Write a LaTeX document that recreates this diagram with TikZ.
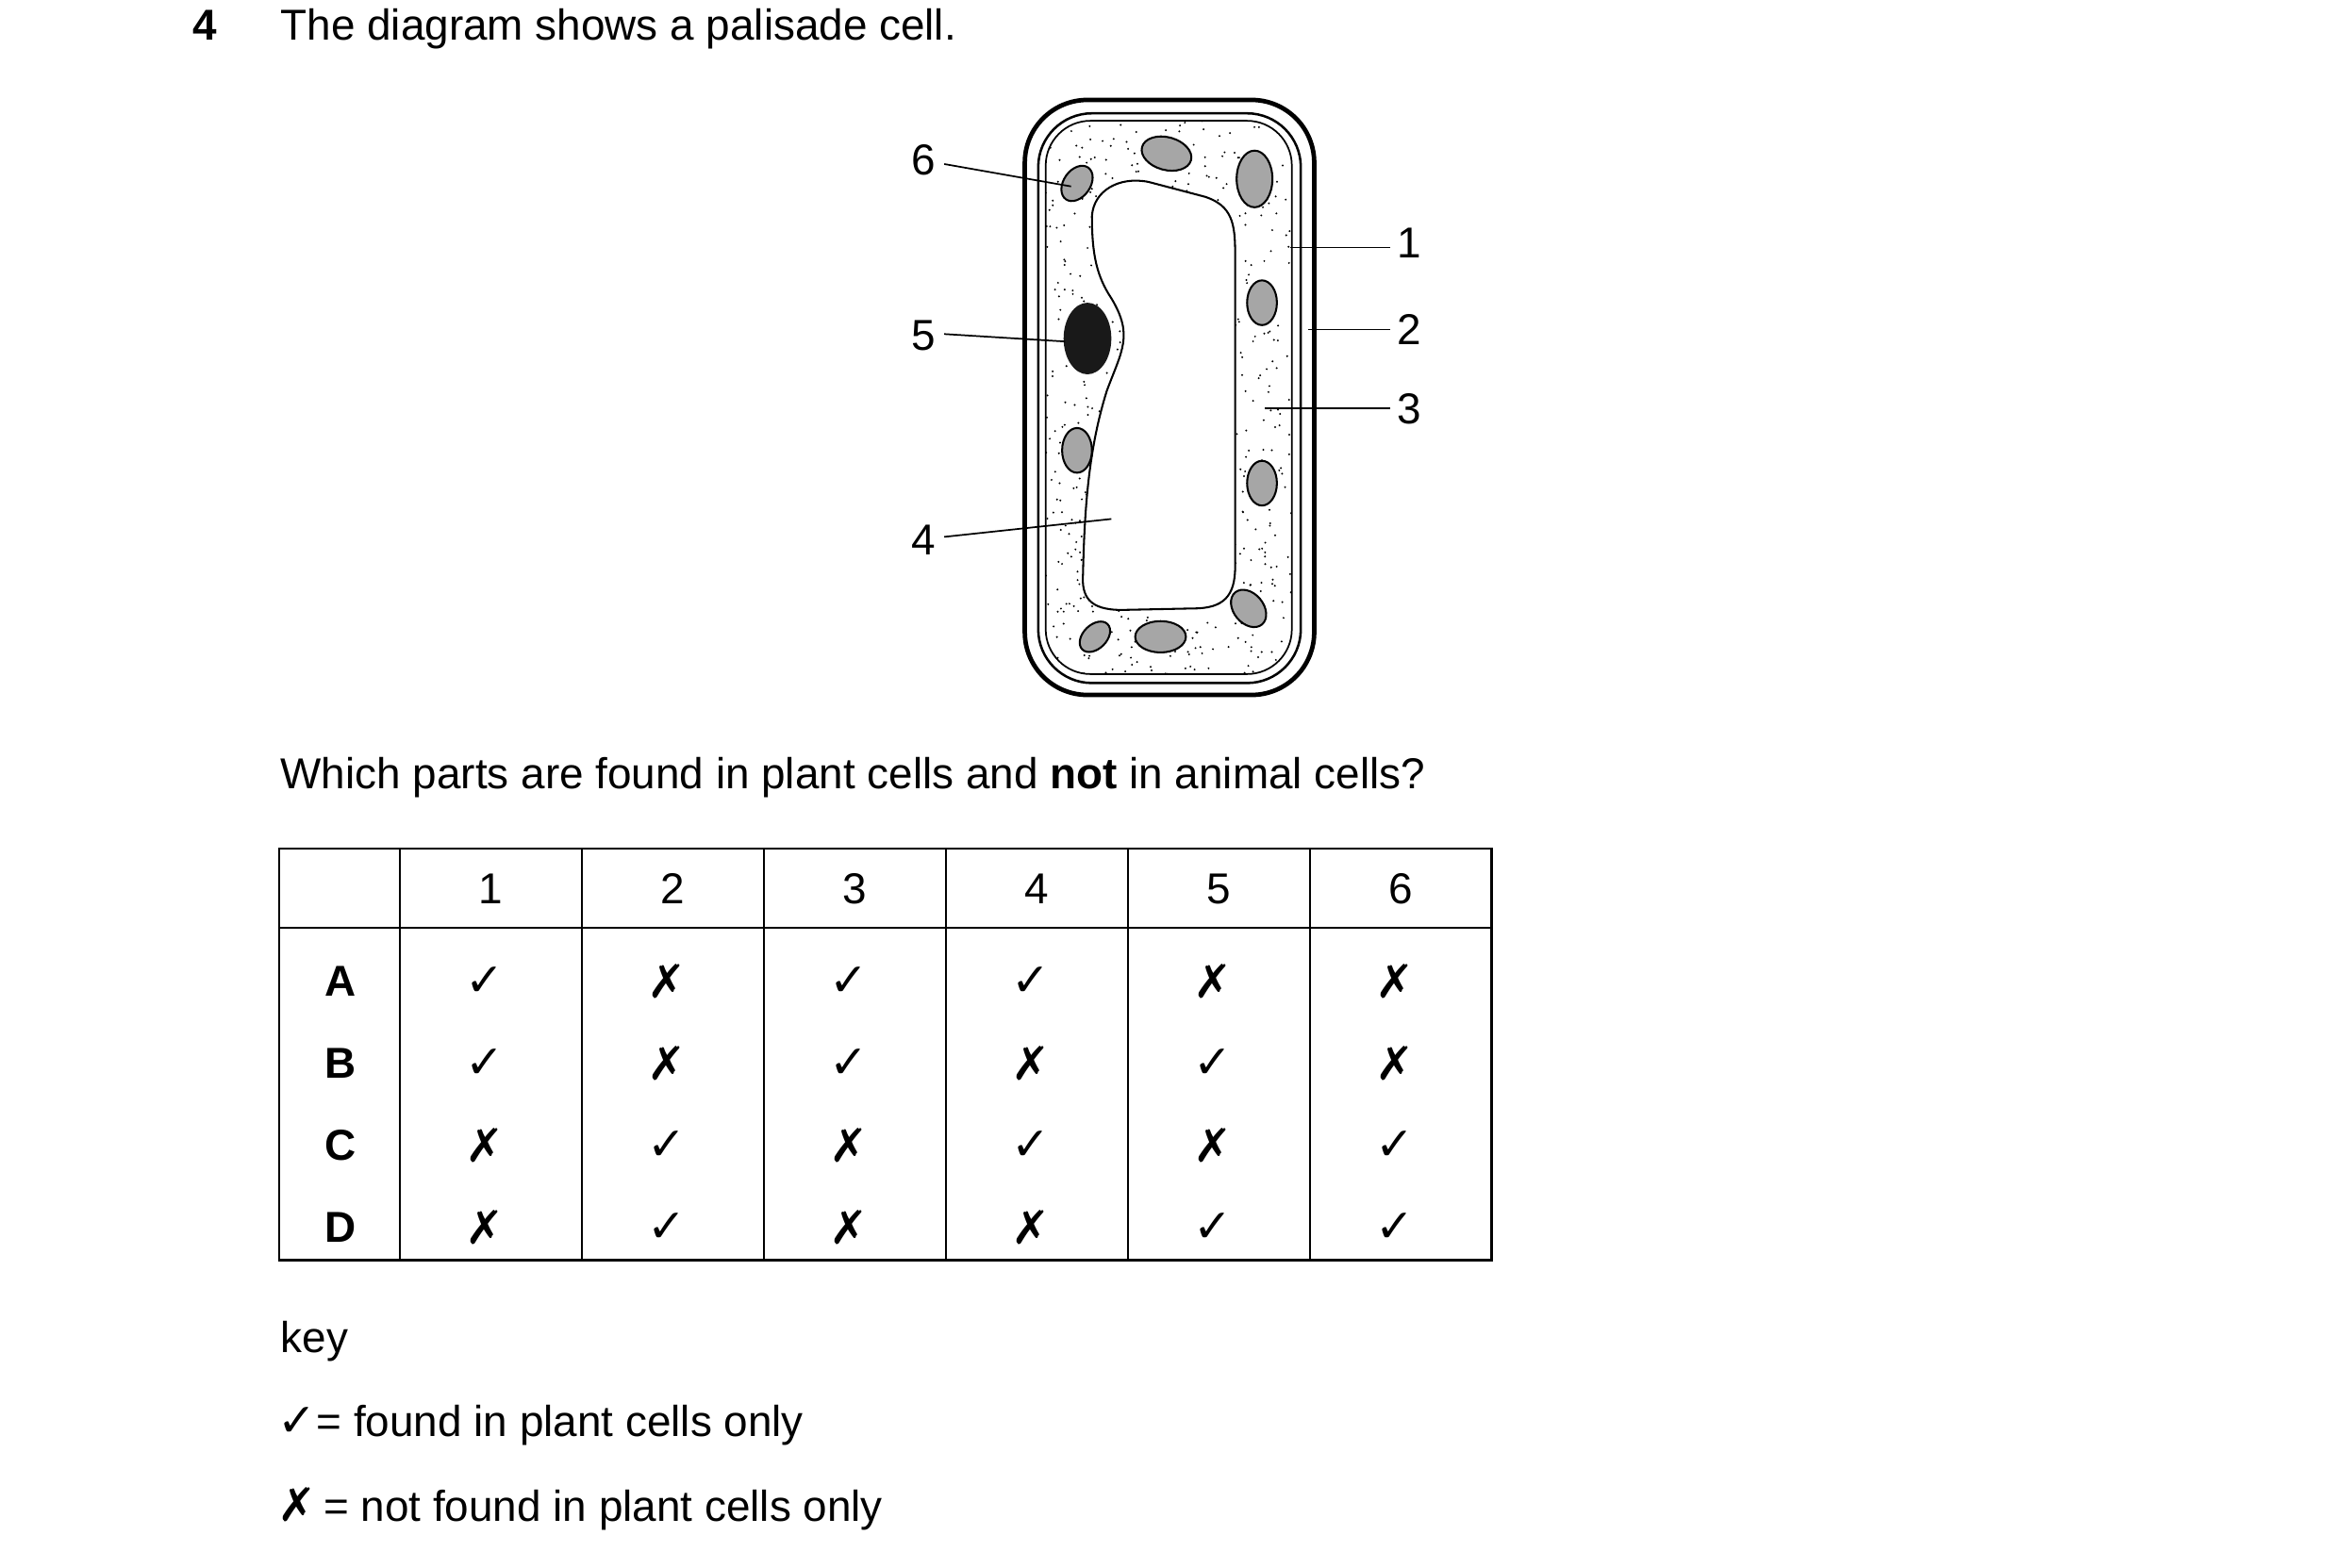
\documentclass[tikz,border=0pt]{standalone}
\usepackage{fontspec}
\setmainfont{Liberation Sans}
\newfontfamily\sym{DejaVu Sans}
\begin{document}
\begin{tikzpicture}[x=1pt,y=-1pt,
  txt/.style={font=\fontsize{29}{34}\selectfont,inner sep=0pt},
  lbl/.style={txt,anchor=center},
  lead/.style={line width=1.1pt},
  chl/.style={fill=black!35,draw=black,line width=1.3pt},
  cellt/.style={font=\fontsize{29}{34}\selectfont,inner sep=0pt,anchor=center},
  yes/.style={cellt,font=\sym\fontsize{31}{36}\selectfont},
  tb/.style={line width=1.5pt}]
\useasboundingbox (0,0) rectangle (1568,1051);
\node[txt,anchor=base west,font=\bfseries\fontsize{29}{34}\selectfont] (qn) at (129,27) {4};
\node[txt,anchor=base west] (q1) at (188,27) {The diagram shows a palisade cell.};
% cell
\draw[line width=3pt,rounded corners=42] (687,67) rectangle (881,466);
\draw[line width=1.6pt,rounded corners=36] (696,76) rectangle (872,458);
\begin{scope}
\clip[rounded corners=30] (701,81) rectangle (866,452);
\pgfmathsetseed{7}
\foreach \i in {1,...,750}{
  \pgfmathsetmacro\px{701+165*rnd}
  \pgfmathsetmacro\py{81+371*rnd}
  \fill (\px,\py) circle (0.7);
}
\end{scope}
\draw[line width=1.1pt,rounded corners=30] (701,81) rectangle (866,452);
\draw[line width=1.3pt,fill=white] (770,122) -- (808,132) .. controls (826,138) and (828,150) .. (828,170)
  -- (828,380) .. controls (828,400) and (820,408) .. (800,408)
  -- (752,409) .. controls (730,409) and (725,400) .. (726,385)
  .. controls (727,340) and (730,300) .. (742,262)
  .. controls (752,235) and (760,225) .. (745,200)
  .. controls (735,185) and (732,170) .. (732,145)
  .. controls (733,128) and (750,118) .. (770,122) -- cycle;
% chloroplasts
\draw[chl,rotate around={-15:(782,103)}] (782,103) ellipse (17 and 11);
\draw[chl,rotate around={55:(722,123)}] (722,123) ellipse (13 and 9);
\draw[chl] (841,120) ellipse (12 and 19);
\draw[chl] (846,203) ellipse (10 and 15);
\draw[chl] (722,302) ellipse (10 and 15);
\draw[chl] (846,324) ellipse (10 and 15);
\draw[chl,rotate around={-50:(837,408)}] (837,408) ellipse (14 and 10);
\draw[chl,rotate around={45:(734,427)}] (734,427) ellipse (12 and 8);
\draw[chl] (778,427) ellipse (17 and 10.5);
\fill[black!90] (729,227) ellipse (16 and 24);
% labels
\node[lbl] (l6) at (619,107) {6};
\node[lbl] (l5) at (619,225) {5};
\node[lbl] (l4) at (619,362) {4};
\node[lbl] (l1) at (945,163) {1};
\node[lbl] (l2) at (945,221) {2};
\node[lbl] (l3) at (945,274) {3};
\coordinate (t6) at (718,125);
\coordinate (t5) at (714,229);
\coordinate (t4) at (745,348);
\coordinate (t1) at (865,166);
\coordinate (t2) at (877,221);
\coordinate (t3) at (848,274);
\draw[lead] (633,110) -- (t6);
\draw[lead] (633,224) -- (t5);
\draw[lead] (633,360) -- (t4);
\draw[lead] (932,166) -- (t1);
\draw[lead] (932,221) -- (t2);
\draw[lead] (932,274) -- (t3);
\node[txt,anchor=base west] (q2) at (188,529) {Which parts are found in plant cells and \textbf{not} in animal cells?};
% table
\draw[tb] (187,569) rectangle (1000,845);
\draw[tb] (187,622) -- (1000,622);
\foreach \x in {268,390,512,634,756,878} \draw[tb] (\x,569) -- (\x,845);
\foreach \c/\h in {329/1,451/2,573/3,695/4,817/5,939/6} \node[cellt] (h\h) at (\c,596) {\h};
\foreach \r/\y in {A/658,B/713,C/768,D/823} \node[cellt,font=\bfseries\fontsize{29}{34}\selectfont] (r\r) at (228,\y) {\r};
\foreach \y/\a/\b/\c/\d/\e/\f in {658/1/0/1/1/0/0,713/1/0/1/0/1/0,768/0/1/0/1/0/1,823/0/1/0/0/1/1}{
  \foreach \xx/\v in {325/\a,447/\b,569/\c,691/\d,813/\e,935/\f}{
    \ifnum\v=1 \node[yes] at (\xx,\y) {✓};\else \node[yes] at (\xx,\y) {✗};\fi
  }
}
\node[txt,anchor=base west] (k0) at (188,907) {key};
\node[txt,anchor=base west] (k1) at (186,963) {{\sym\fontsize{31}{36}\selectfont ✓}= found in plant cells only};
\node[txt,anchor=base west] (k2) at (186,1020) {{\sym\fontsize{31}{36}\selectfont ✗}\,= not found in plant cells only};
\end{tikzpicture}
\end{document}
